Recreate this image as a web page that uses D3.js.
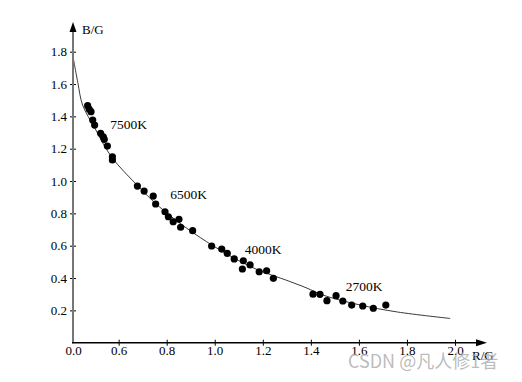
<!DOCTYPE html>
<html><head><meta charset="utf-8">
<script src="https://cdn.jsdelivr.net/npm/d3@7"></script>
<style>body{margin:0;background:#fff}svg{display:block}</style>
</head><body>
<script>
// Data
const xTickVals = [0.41, 0.6, 0.8, 1.0, 1.2, 1.4, 1.6, 1.8, 2.0];
const xTickLabels = ["0.0", "0.6", "0.8", "1.0", "1.2", "1.4", "1.6", "1.8", "2.0"];
const yTickVals = [0.2, 0.4, 0.6, 0.8, 1.0, 1.2, 1.4, 1.6, 1.8];
const yTickLabels = ["0.2", "0.4", "0.6", "0.8", "1.0", "1.2", "1.4", "1.6", "1.8"];
const curveX = [0.41, 0.43, 0.45, 0.50, 0.57, 0.68, 0.77, 0.94, 1.15, 1.31, 1.38, 1.45, 1.60, 1.76, 1.98];
const curveY = [1.77, 1.61, 1.47, 1.33, 1.15, 0.97, 0.84, 0.65, 0.47, 0.38, 0.34, 0.295, 0.235, 0.19, 0.15];
const dotX = [0.471,0.477,0.485,0.492,0.500,0.525,0.536,0.540,0.553,0.574,0.574,0.678,0.706,0.744,0.754,0.793,0.807,0.827,0.851,0.858,0.908,0.987,1.029,1.052,1.081,1.119,1.115,1.147,1.185,1.216,1.244,1.409,1.438,1.467,1.505,1.533,1.570,1.616,1.660,1.712];
const dotY = [1.466,1.445,1.429,1.377,1.346,1.295,1.274,1.258,1.216,1.150,1.130,0.969,0.938,0.907,0.858,0.810,0.779,0.748,0.763,0.714,0.693,0.598,0.579,0.553,0.518,0.507,0.456,0.481,0.439,0.445,0.398,0.300,0.299,0.260,0.291,0.258,0.233,0.227,0.213,0.233];
const tempLabels = ["7500K", "6500K", "4000K", "2700K"];
const tempX = [0.565, 0.815, 1.125, 1.545];
const tempY = [1.32, 0.89, 0.55, 0.32];
const xTitle = "R/G", yTitle = "B/G";
const watermark = "CSDN @凡人修1者";

const W = 522, H = 382;
const svg = d3.select("body").append("svg").attr("width", W).attr("height", H);
const x = d3.scaleLinear().domain([0.41, 2.0]).range([73, 455]);
const y = d3.scaleLinear().domain([0, 1.8]).range([342.7, 51.7]);
const serif = "Liberation Serif, DejaVu Serif, serif";

// curve
svg.append("path")
  .datum(curveX.map((v, i) => [v, curveY[i]]))
  .attr("fill", "none").attr("stroke", "#222").attr("stroke-width", 0.9)
  .attr("d", d3.line().x(d => x(d[0])).y(d => y(d[1])).curve(d3.curveCatmullRom));

// dots
svg.append("g").selectAll("circle").data(dotX.map((v, i) => [v, dotY[i]])).join("circle")
  .attr("cx", d => x(d[0])).attr("cy", d => y(d[1])).attr("r", 3.6).attr("fill", "#000");

// axes
const xAxis = d3.axisBottom(x).tickValues(xTickVals).tickFormat((d, i) => xTickLabels[i]).tickSize(3);
const gx = svg.append("g").attr("transform", `translate(0,${y(0)})`).call(xAxis);
gx.select(".domain").remove();
gx.selectAll(".tick line").attr("y1", -3).attr("y2", 3).attr("stroke", "#000");
gx.selectAll(".tick").filter((d, i) => i === 0).select("line").remove();
gx.selectAll(".tick text").attr("font-family", serif).attr("font-size", 13).attr("fill", "#000").attr("dy", "0.6em").attr("y", 5);

const yAxis = d3.axisLeft(y).tickValues(yTickVals).tickFormat((d, i) => yTickLabels[i]).tickSize(3);
const gy = svg.append("g").attr("transform", `translate(${x(0.41)},0)`).call(yAxis);
gy.select(".domain").remove();
gy.selectAll(".tick line").attr("x1", -3).attr("x2", 3).attr("stroke", "#000");
gy.selectAll(".tick text").attr("font-family", serif).attr("font-size", 13).attr("fill", "#000").attr("x", -6);

// axis lines with arrows
svg.append("line").attr("x1", x(0.41)).attr("x2", x(0.41)).attr("y1", y(0) + 0.5).attr("y2", 28)
  .attr("stroke", "#777").attr("stroke-width", 2);
svg.append("path").attr("d", `M${x(0.41)},22 L${x(0.41) - 3.5},32 L${x(0.41) + 3.5},32 Z`).attr("fill", "#000");
svg.append("line").attr("x1", x(0.41) - 1).attr("x2", 480).attr("y1", y(0)).attr("y2", y(0))
  .attr("stroke", "#000").attr("stroke-width", 1.5);
svg.append("path").attr("d", `M487,${y(0)} L476,${y(0) - 3.5} L476,${y(0) + 3.5} Z`).attr("fill", "#000");

svg.append("text").attr("x", 82).attr("y", 34).text(yTitle)
  .attr("font-family", serif).attr("font-size", 13).attr("fill", "#000");
svg.append("text").attr("x", 472).attr("y", 360).text(xTitle)
  .attr("font-family", serif).attr("font-size", 13).attr("fill", "#000");

// temperature labels
svg.append("g").selectAll("text").data(tempLabels).join("text")
  .attr("x", (d, i) => x(tempX[i])).attr("y", (d, i) => y(tempY[i]))
  .attr("font-family", serif).attr("font-size", 13.5).attr("fill", "#000").text(d => d);

// watermark
svg.append("text").attr("x", 348).attr("y", 368).text(watermark)
  .attr("font-family", "Noto Sans CJK SC, Noto Sans, sans-serif").attr("font-size", 18)
  .attr("fill", "#aaa").attr("fill-opacity", 0.8);
</script>
</body></html>
